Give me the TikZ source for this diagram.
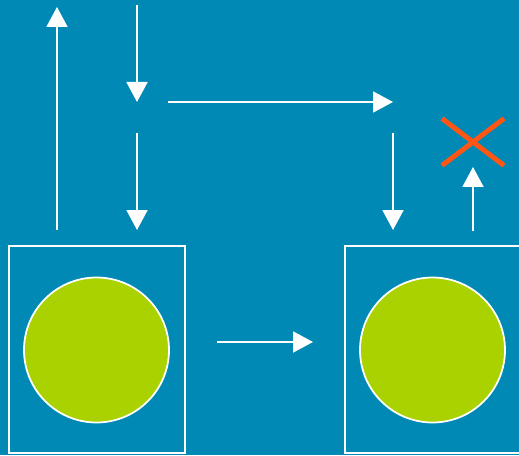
\documentclass[tikz,border=0pt]{standalone}
\usetikzlibrary{arrows.meta}
\usetikzlibrary{positioning}
\usetikzlibrary{shapes.misc}
\definecolor{sea}{HTML}{0089B5}
\definecolor{leaf}{HTML}{AAD200}
\definecolor{flame}{HTML}{FF5614}
\tikzstyle{cell} = [draw=white, line width=1.2pt, minimum width=3.52cm,
minimum height=4.14cm]
\tikzstyle{ball} = [circle, draw=white, fill=leaf, line width=1pt,
minimum size=2.9cm]
\tikzstyle{line} = [draw=white, line width=1.1pt, -{Triangle[length=4mm,width=4.2mm]}]

\begin{document}
\begin{tikzpicture}[x=0.02cm, y=-0.02cm,
	nope/.style={cross out, draw=flame, line width=2.8pt,
		minimum width=1.24cm, minimum height=0.94cm, inner sep=0pt, outer sep=0pt}]
    \fill [sea] (0,0) rectangle (519,455);
    \useasboundingbox (0,0) rectangle (519,455);
	%% Cells and their contents
    \node [cell] (L) at (97,349.5) {};
    \node [cell, right=3.16cm of L] (R) {};
    \node [ball] (cL) at (96.5,350) {};
    \node [ball] (cR) at (432.5,350) {};
    \node [nope] (X) at (473,142) {};
	%% Arrow ends
    \coordinate (a0) at (57,230);   \coordinate (a1) at (57,7);
    \coordinate (b0) at (137,5);    \coordinate (b1) at (137,102);
    \coordinate (c0) at (137,133);  \coordinate (c1) at (137,230);
    \coordinate (d0) at (168,102);  \coordinate (d1) at (393,102);
    \coordinate (e0) at (393,133);  \coordinate (e1) at (393,230);
    \coordinate (f0) at (473,231);  \coordinate (f1) at (473,167);
    \coordinate (g0) at (217,342);  \coordinate (g1) at (313,342);
	%% Arrows
    \path [line] (a0) -- (a1);
    \path [line] (b0) -- (b1);
    \path [line] (c0) -- (c1);
    \path [line] (d0) -- (d1);
    \path [line] (e0) -- (e1);
    \path [line] (f0) -- (f1);
    \path [line] (g0) -- (g1);
\end{tikzpicture}
\end{document}
